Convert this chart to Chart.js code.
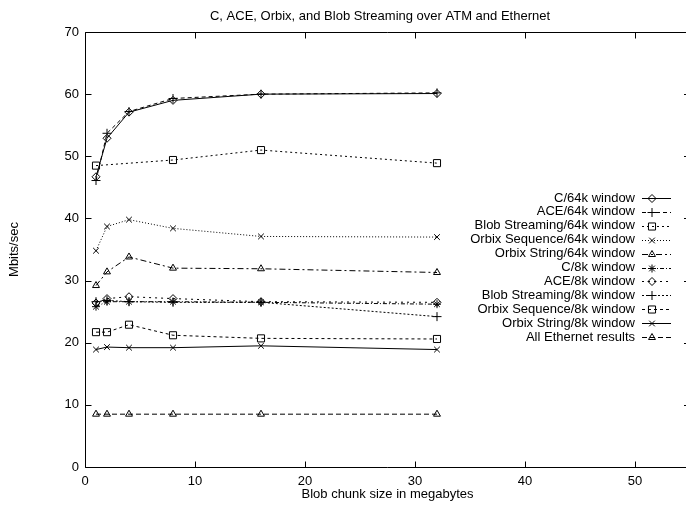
<!DOCTYPE html>
<html>
<head>
<meta charset="utf-8">
<script src="https://cdn.jsdelivr.net/npm/chart.js@4/dist/chart.umd.min.js"></script>
<style>
  body { margin: 0; background: #fff; overflow: hidden; }
  #wrap { width: 686px; height: 508px; overflow: hidden; }
</style>
</head>
<body>
<div id="wrap"><canvas id="grafica" width="696" height="508"></canvas></div>
<script>
// chunk sizes in megabytes
const chunkSizes = [1, 2, 4, 8, 16, 32];
const blobChunks64k = [1, 8, 16, 32];

// Mbits/sec
const c64k = [46.7, 52.9, 57.1, 59.0, 60.0, 60.1];
const ace64k = [46.1, 53.7, 57.2, 59.3, 60.0, 60.2];
const blob64k = [48.5, 49.4, 51.0, 48.9];
const orbixSeq64k = [34.8, 38.7, 39.8, 38.4, 37.1, 37.0];
const orbixStr64k = [29.2, 31.4, 33.8, 32.0, 31.9, 31.3];
const c8k = [25.8, 26.6, 26.6, 26.6, 26.5, 26.2];
const ace8k = [26.4, 27.1, 27.4, 27.1, 26.6, 26.5];
const blob8k = [26.6, 26.8, 26.6, 26.5, 26.5, 24.2];
const orbixSeq8k = [21.7, 21.7, 22.9, 21.2, 20.7, 20.6];
const orbixStr8k = [18.9, 19.3, 19.2, 19.2, 19.5, 18.9];
const ethernet = [8.5, 8.5, 8.5, 8.5, 8.5, 8.5];

function pts(xs, ys) {
    return xs.map((x, i) => ({ x: x, y: ys[i] }));
}

function serie(label, xs, ys, dash, punto, radio) {
    return {
        label: label,
        data: pts(xs, ys),
        borderColor: "#000",
        backgroundColor: "#fff",
        borderWidth: 1,
        borderDash: dash,
        pointStyle: punto,
        pointRadius: radio || 4,
        pointBorderColor: "#000",
        pointBackgroundColor: "rgba(255,255,255,0)",
        pointBorderWidth: 1,
        tension: 0
    };
}

const series = [
    serie("C/64k window", chunkSizes, c64k, [], "rectRot"),
    serie("ACE/64k window", chunkSizes, ace64k, [4, 3], "cross", 4.5),
    serie("Blob Streaming/64k window", blobChunks64k, blob64k, [2, 3], "rect", 5),
    serie("Orbix Sequence/64k window", chunkSizes, orbixSeq64k, [1, 2], "crossRot"),
    serie("Orbix String/64k window", chunkSizes, orbixStr64k, [6, 3, 2, 3], "triangle"),
    serie("C/8k window", chunkSizes, c8k, [4, 2, 1, 2], "star"),
    serie("ACE/8k window", chunkSizes, ace8k, [2, 4], "rectRot"),
    serie("Blob Streaming/8k window", chunkSizes, blob8k, [2, 2], "cross", 4.5),
    serie("Orbix Sequence/8k window", chunkSizes, orbixSeq8k, [3, 3], "rect", 5),
    serie("Orbix String/8k window", chunkSizes, orbixStr8k, [], "crossRot"),
    serie("All Ethernet results", chunkSizes, ethernet, [5, 3], "triangle")
];

Chart.defaults.font.family = "'Liberation Sans', Arial, sans-serif";
Chart.defaults.font.size = 13;
Chart.defaults.color = "#000";

// gnuplot style: box border, inward ticks, title, key at the right
const estilo = {
    id: "estilo",
    afterDraw(chart) {
        const ctx = chart.ctx;
        const a = chart.chartArea;
        const sx = chart.scales.x, sy = chart.scales.y;
        const L = Math.round(a.left) + 0.5, T = Math.round(a.top) + 0.5, B = Math.round(a.bottom) + 0.5;
        const R = a.right;
        ctx.save();
        ctx.strokeStyle = "#000";
        ctx.lineWidth = 1;
        ctx.setLineDash([]);
        ctx.beginPath();
        ctx.moveTo(R, T); ctx.lineTo(L, T); ctx.lineTo(L, B); ctx.lineTo(R, B); ctx.lineTo(R, T);
        sx.ticks.forEach(t => {
            const px = Math.round(sx.getPixelForValue(t.value)) + 0.5;
            ctx.moveTo(px, B); ctx.lineTo(px, B - 6);
            ctx.moveTo(px, T); ctx.lineTo(px, T + 6);
        });
        sy.ticks.forEach(t => {
            const py = Math.round(sy.getPixelForValue(t.value)) + 0.5;
            ctx.moveTo(L, py); ctx.lineTo(L + 6, py);
            ctx.moveTo(R, py); ctx.lineTo(R - 6, py);
        });
        ctx.stroke();

        ctx.fillStyle = "#000";
        ctx.font = "13px 'Liberation Sans', Arial, sans-serif";
        ctx.textAlign = "center";
        ctx.textBaseline = "middle";
        ctx.fillText("C, ACE, Orbix, and Blob Streaming over ATM and Ethernet", 380, 16);

        // key
        const textoX = 635, lineaIni = 642, lineaFin = 671, puntoX = 652;
        let y = 198;
        ctx.textAlign = "right";
        chart.data.datasets.forEach(ds => {
            ctx.fillStyle = "#000";
            ctx.fillText(ds.label, textoX, y);
            const ly = Math.round(y) + 0.5;
            ctx.beginPath();
            ctx.setLineDash(ds.borderDash);
            ctx.moveTo(lineaIni, ly);
            ctx.lineTo(lineaFin, ly);
            ctx.stroke();
            ctx.setLineDash([]);
            ctx.fillStyle = "rgba(255,255,255,0)";
            Chart.helpers.drawPoint(ctx, {
                pointStyle: ds.pointStyle,
                radius: ds.pointRadius,
                rotation: 0,
                borderWidth: 1
            }, puntoX, ly);
            y += 13.9;
        });
        ctx.restore();
    }
};

new Chart(document.getElementById("grafica"), {
    type: "line",
    data: { datasets: series },
    options: {
        responsive: false,
        animation: false,
        events: [],
        layout: { padding: { top: 32, right: 0, left: 0, bottom: 0 } },
        plugins: {
            legend: { display: false },
            tooltip: { enabled: false },
            title: { display: false }
        },
        scales: {
            x: {
                type: "linear",
                min: 0,
                max: 55,
                ticks: { stepSize: 10, padding: 7, maxRotation: 0, includeBounds: false },
                grid: { display: false, drawTicks: false },
                border: { display: false },
                title: { display: true, text: "Blob chunk size in megabytes", padding: { top: 0, bottom: 6 } },
                afterFit: s => { s.height = 41; }
            },
            y: {
                min: 0,
                max: 70,
                ticks: { stepSize: 10, padding: 6 },
                grid: { display: false, drawTicks: false },
                border: { display: false },
                title: { display: true, text: "Mbits/sec", padding: { top: 7, bottom: 0 } },
                afterFit: s => { s.width = 85; }
            }
        }
    },
    plugins: [estilo]
});
</script>
</body>
</html>
